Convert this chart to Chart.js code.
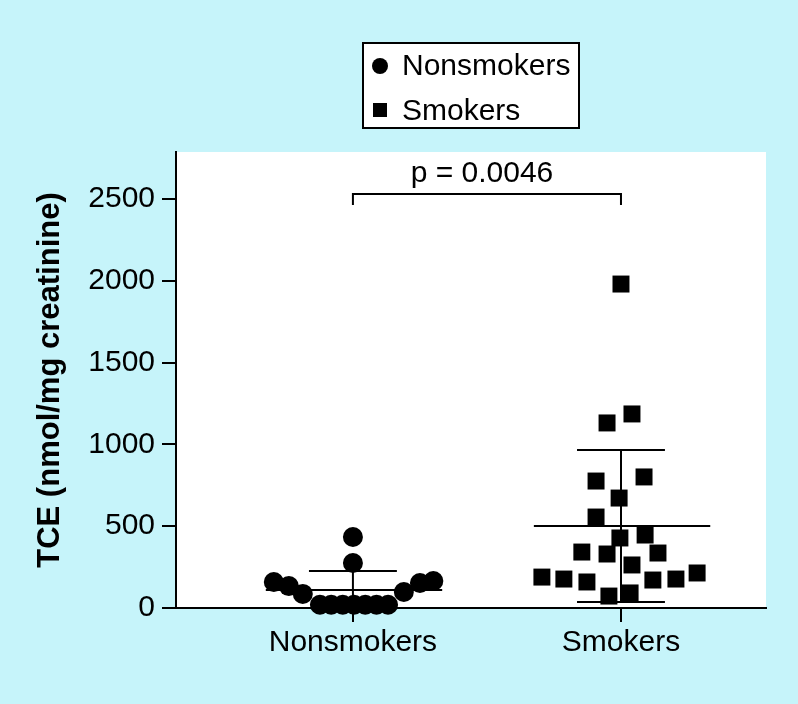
<!DOCTYPE html>
<html>
<head>
<meta charset="utf-8">
<script src="https://cdn.jsdelivr.net/npm/chart.js@4.4.1/dist/chart.umd.min.js"></script>
<style>
  html, body { margin: 0; padding: 0; background: #c6f4fa; }
  #wrap { width: 798px; height: 704px; position: relative; }
</style>
</head>
<body>
<div id="wrap"><canvas id="tce"></canvas></div>
<script>
const groups = ['Nonsmokers', 'Smokers'];
const yTicks = [0, 500, 1000, 1500, 2000, 2500];

// x = jittered group position (1 = Nonsmokers, 2 = Smokers), y = TCE
const nonsmokersX = [1.0, 1.0, 0.705, 0.761, 0.813, 0.877, 0.919, 0.962, 1.004, 1.046, 1.088, 1.131, 1.19, 1.25, 1.30];
const nonsmokersY = [434, 275, 159, 134, 86, 20, 20, 20, 20, 20, 20, 20, 98, 153, 165];

const smokersX = [2.0, 1.948, 2.041, 1.907, 2.086, 1.993, 1.907, 1.996, 2.090, 1.854, 1.948, 2.138, 2.041, 1.705, 1.787, 1.873, 2.119, 2.205, 2.284, 1.955, 2.034];
const smokersY = [1980, 1131, 1186, 776, 801, 672, 556, 428, 446, 342, 330, 336, 263, 189, 177, 159, 171, 177, 214, 73, 92];

const means = [110, 501];
const sds = [116, 465];

const pText = 'p = 0.0046';
const bracketY = 2530;
const bracketDrop = 2463;

const FONT = '"Liberation Sans", Arial, Helvetica, sans-serif';
Chart.defaults.font.family = FONT;
Chart.defaults.color = '#000';

const pts = (xs, ys) => xs.map((x, i) => ({ x: x, y: ys[i] }));

// mean and SD lines
const segs = [];
groups.forEach((g, i) => {
    const c = i + 1, m = means[i], lo = Math.max(0, m - sds[i]), hi = m + sds[i];
    segs.push([[c - 0.325, m], [c + 0.333, m]]);
    segs.push([[c, lo], [c, hi]]);
    segs.push([[c - 0.164, hi], [c + 0.164, hi]]);
    if (m - sds[i] > 0) segs.push([[c - 0.164, lo], [c + 0.164, lo]]);
});
const lineSets = segs.map(s => ({
    data: s.map(p => ({ x: p[0], y: p[1] })),
    showLine: true,
    pointRadius: 0,
    borderColor: '#000',
    borderWidth: 2,
    clip: false,
    order: 2
}));

const bgPlugin = {
    id: 'bg',
    beforeDraw(chart) {
        const { ctx, chartArea: a } = chart;
        ctx.save();
        ctx.fillStyle = '#c6f4fa';
        ctx.fillRect(0, 0, chart.width, chart.height);
        ctx.fillStyle = '#fff';
        ctx.fillRect(a.left, a.top, a.right - a.left, a.bottom - a.top);
        ctx.restore();
    }
};

const extras = {
    id: 'extras',
    afterDraw(chart) {
        const ctx = chart.ctx;
        const x = chart.scales.x, y = chart.scales.y;
        ctx.save();
        // significance bracket
        const x1 = x.getPixelForValue(1), x2 = x.getPixelForValue(2);
        const yb = y.getPixelForValue(bracketY), yd = y.getPixelForValue(bracketDrop);
        ctx.strokeStyle = '#000';
        ctx.lineWidth = 2;
        ctx.beginPath();
        ctx.moveTo(x1, yd); ctx.lineTo(x1, yb); ctx.lineTo(x2, yb); ctx.lineTo(x2, yd);
        ctx.stroke();
        ctx.fillStyle = '#000';
        ctx.font = '30px ' + FONT;
        ctx.textAlign = 'center';
        ctx.textBaseline = 'alphabetic';
        ctx.fillText(pText, (x1 + x2) / 2 - 5, yb - 12);

        // legend box
        ctx.fillStyle = '#fff';
        ctx.fillRect(363, 43, 216, 85);
        ctx.strokeRect(363, 43, 216, 85);
        ctx.fillStyle = '#000';
        ctx.textAlign = 'left';
        ctx.beginPath();
        ctx.arc(380, 66, 8, 0, Math.PI * 2);
        ctx.fill();
        ctx.fillRect(373, 103, 14, 14);
        ctx.fillText(groups[0], 402, 75);
        ctx.fillText(groups[1], 402, 120);
        ctx.restore();
    }
};

new Chart(document.getElementById('tce'), {
    type: 'scatter',
    data: {
        datasets: [
            {
                label: groups[0],
                data: pts(nonsmokersX, nonsmokersY),
                pointStyle: 'circle',
                pointRadius: 10,
                backgroundColor: '#000',
                borderColor: '#000',
                borderWidth: 0,
                clip: false,
                order: 0
            },
            {
                label: groups[1],
                data: pts(smokersX, smokersY),
                pointStyle: 'rect',
                pointRadius: 12,
                backgroundColor: '#000',
                borderColor: '#000',
                borderWidth: 0,
                clip: false,
                order: 0
            }
        ].concat(lineSets)
    },
    options: {
        responsive: true,
        maintainAspectRatio: false,
        animation: false,
        layout: { padding: { top: 152, right: 32, left: 0, bottom: 0 } },
        plugins: {
            legend: { display: false },
            tooltip: { enabled: false }
        },
        scales: {
            x: {
                type: 'linear',
                min: 0.34,
                max: 2.541,
                afterBuildTicks: s => { s.ticks = groups.map((g, i) => ({ value: i + 1 })); },
                afterFit: s => { s.height = 96; },
                ticks: {
                    callback: v => groups[v - 1],
                    font: { size: 30 },
                    padding: 3,
                    autoSkip: false,
                    maxRotation: 0
                },
                grid: { drawOnChartArea: false, tickLength: 14, color: '#000', lineWidth: 2 },
                border: { color: '#000', width: 2 }
            },
            y: {
                min: 0,
                max: 2787,
                afterBuildTicks: s => { s.ticks = yTicks.map(v => ({ value: v })); },
                afterFit: s => { s.width = 176; },
                ticks: {
                    callback: v => String(v),
                    font: { size: 30 },
                    padding: 7
                },
                grid: { drawOnChartArea: false, tickLength: 14, color: '#000', lineWidth: 2 },
                border: { color: '#000', width: 2 },
                title: {
                    display: true,
                    text: 'TCE (nmol/mg creatinine)',
                    font: { size: 31, weight: 'bold' },
                    padding: { top: 32, bottom: 0 }
                }
            }
        }
    },
    plugins: [bgPlugin, extras]
});
</script>
</body>
</html>
